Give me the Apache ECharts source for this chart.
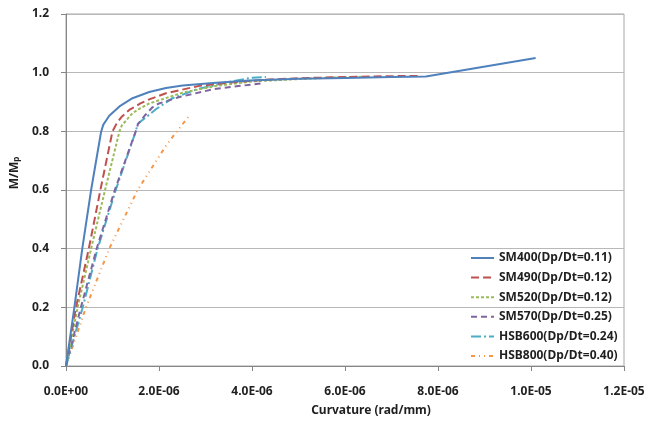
<!DOCTYPE html>
<html>
<head>
<meta charset="utf-8">
<script src="https://cdn.jsdelivr.net/npm/echarts@6/dist/echarts.min.js"></script>
<style>
  html, body { margin: 0; padding: 0; background: #fff; }
  #chart { width: 659px; height: 422px; }
</style>
</head>
<body>
<div id="chart"></div>
<script>
// Moment–curvature curves; curvature stored in units of 1E-6 rad/mm, moment as M/Mp.
const seriesNames = [
  'SM400(Dp/Dt=0.11)',
  'SM490(Dp/Dt=0.12)',
  'SM520(Dp/Dt=0.12)',
  'SM570(Dp/Dt=0.25)',
  'HSB600(Dp/Dt=0.24)',
  'HSB800(Dp/Dt=0.40)'
];

const sm400 = [[0,0],[0.18,0.2],[0.35,0.4],[0.54,0.6],[0.753,0.797],[0.8,0.822],[0.93,0.853],[1.15,0.885],[1.43,0.913],[1.79,0.934],[2.15,0.948],[2.51,0.956],[3.23,0.966],[3.94,0.973],[5.0,0.979],[6.0,0.982],[7.0,0.985],[7.74,0.987],[10.1,1.05]];
const sm490 = [[0,0],[0.215,0.2],[0.49,0.4],[0.74,0.6],[1.0,0.8],[1.1,0.83],[1.2,0.85],[1.36,0.873],[1.6,0.895],[1.79,0.909],[2.15,0.93],[2.87,0.955],[3.5,0.966],[4.3,0.976],[5.0,0.981],[6.0,0.985],[7.0,0.988],[7.56,0.989]];
const sm520 = [[0,0],[0.25,0.2],[0.54,0.4],[0.84,0.6],[1.15,0.8],[1.2,0.82],[1.43,0.862],[1.58,0.877],[1.79,0.895],[2.51,0.932],[3.23,0.955],[4.0,0.97],[5.0,0.978],[5.65,0.983],[6.4,0.986]];
const sm570 = [[0,0],[0.32,0.2],[0.66,0.4],[1.05,0.6],[1.5,0.8],[1.55,0.825],[1.7,0.855],[1.86,0.882],[2.0,0.895],[2.44,0.917],[3.15,0.943],[3.58,0.952],[4.25,0.964]];
const hsb600 = [[0,0],[0.36,0.2],[0.68,0.4],[1.07,0.6],[1.5,0.8],[1.54,0.825],[1.94,0.876],[2.29,0.913],[2.51,0.925],[2.8,0.943],[3.58,0.971],[4.0,0.983],[4.3,0.985]];
const hsb800 = [[0,0],[0.43,0.2],[0.93,0.4],[1.54,0.6],[2.15,0.751],[2.37,0.797],[2.65,0.853]];

const xTicks = [0, 2, 4, 6, 8, 10, 12];
const yTicks = [0, 0.2, 0.4, 0.6, 0.8, 1.0, 1.2];

const colors = ['#4F81BD', '#C0504D', '#9BBB59', '#8064A2', '#4BACC6', '#F79646'];
const dashes = ['solid', [8, 4], [3, 2], [6, 4], [10, 3, 2, 3], [4, 4, 1, 4, 1, 4]];
const dataSets = [sm400, sm490, sm520, sm570, hsb600, hsb800];

const FONT = '"Noto Sans", "DejaVu Sans", sans-serif';
const TEXT = '#1f1f1f';

// 2 -> "2.0E-06"
function sciLabel(v) {
  if (v === 0) return '0.0E+00';
  const s = (v * 1e-6).toExponential(1);
  const [m, e] = s.split('e');
  const sign = e[0] === '-' ? '-' : '+';
  const digits = e.replace(/[+-]/, '').padStart(2, '0');
  return m + 'E' + sign + digits;
}

const chart = echarts.init(document.getElementById('chart'), null, { renderer: 'canvas' });

chart.setOption({
  backgroundColor: '#ffffff',
  animation: false,
  textStyle: { fontFamily: FONT },
  grid: {
    left: 66, right: 35, top: 14, bottom: 54,
    show: true, borderColor: '#a6a6a6', borderWidth: 1, backgroundColor: 'transparent'
  },
  legend: {
    orient: 'vertical',
    left: 470,
    top: 252,
    itemWidth: 23,
    itemHeight: 12,
    itemGap: 7.6,
    padding: 0,
    // line-only keys: hide the marker that line series add to their legend icon
    itemStyle: { opacity: 0 },
    textStyle: { fontFamily: FONT, fontSize: 12, fontWeight: 'bold', color: TEXT },
    data: seriesNames
  },
  xAxis: {
    type: 'value',
    min: xTicks[0],
    max: xTicks[xTicks.length - 1],
    interval: 2,
    name: 'Curvature (rad/mm)',
    nameLocation: 'middle',
    nameGap: 39,
    nameTextStyle: { fontFamily: FONT, fontSize: 12, fontWeight: 'bold', color: TEXT, padding: [0, 0, 0, 52] },
    axisLine: { show: true, lineStyle: { color: '#868686', width: 1 } },
    axisTick: { show: true, inside: false, length: 5, lineStyle: { color: '#868686' } },
    axisLabel: { margin: 20, fontFamily: FONT, fontSize: 12, fontWeight: 'bold', color: TEXT, formatter: sciLabel },
    splitLine: { show: false }
  },
  yAxis: {
    type: 'value',
    min: yTicks[0],
    max: yTicks[yTicks.length - 1],
    interval: 0.2,
    name: '{a|M/M}{b|p}',
    nameLocation: 'middle',
    nameRotate: 90,
    nameGap: 34,
    nameTextStyle: {
      padding: [0, 0, 0, 34],
      rich: {
        a: { fontFamily: FONT, fontSize: 12, fontWeight: 'bold', color: TEXT, lineHeight: 16, verticalAlign: 'bottom' },
        b: { fontFamily: FONT, fontSize: 8, fontWeight: 'bold', color: TEXT, lineHeight: 16, verticalAlign: 'bottom', padding: [4, 0, 0, 0] }
      }
    },
    axisLine: { show: true, lineStyle: { color: '#868686', width: 1 } },
    axisTick: { show: true, inside: false, length: 5, lineStyle: { color: '#868686' } },
    axisLabel: { margin: 17, fontFamily: FONT, fontSize: 12, fontWeight: 'bold', color: TEXT, formatter: v => v.toFixed(1) },
    splitLine: { show: true, lineStyle: { color: '#b8b8b8', width: 1 } }
  },
  series: dataSets.map((d, i) => ({
    name: seriesNames[i],
    type: 'line',
    data: d,
    smooth: false,
    symbol: 'none',
    showSymbol: false,
    lineStyle: { color: colors[i], width: 2, type: dashes[i] },
    itemStyle: { color: colors[i] },
    z: 10 - i
  }))
});
</script>
</body>
</html>
